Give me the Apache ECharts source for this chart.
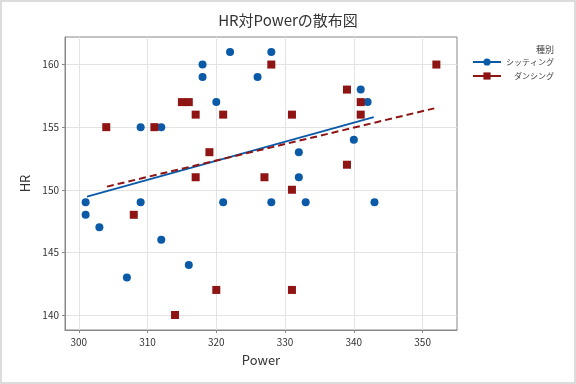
<!DOCTYPE html>
<html><head><meta charset="utf-8">
<script src="https://cdn.jsdelivr.net/npm/echarts@6/dist/echarts.min.js"></script>
<style>html,body{margin:0;padding:0;background:#fff}#c{width:576px;height:384px}</style>
</head><body><div id="c"></div>
<script>
const sittingPower = [318,318,322,326,320,309,312,328,341,342,340,332,332,301,301,303,309,321,312,316,307,328,333,343];
const sittingHR    = [160,159,161,159,157,155,155,161,158,157,154,153,151,149,148,147,149,149,146,144,143,149,149,149];
const dancingPower = [304,311,315,316,317,321,319,317,328,352,339,341,341,331,339,327,331,308,320,314,331];
const dancingHR    = [155,155,157,157,156,156,153,151,160,160,158,157,156,156,152,151,150,148,142,140,142];
const sittingFitX = [301.2, 342.9];
const sittingFitY = [149.45, 155.8];
const dancingFitX = [304.1, 351.7];
const dancingFitY = [150.25, 156.5];
const xTicks = [300,310,320,330,340,350];
const yTicks = [140,145,150,155,160];
const seriesNames = ['シッティング','ダンシング'];
const legendTitle = '種別';

const font = '"Noto Sans CJK JP","Noto Sans",sans-serif';
const blue = '#0a5aa8', red = '#8f1414';
const zip = (a,b)=>a.map((v,i)=>[v,b[i]]);
const chart = echarts.init(document.getElementById('c'));
chart.setOption({
  animation:false,
  backgroundColor:'#fff',
  textStyle:{fontFamily:font},
  title:{text:'HR対Powerの散布図',left:'center',top:8,textStyle:{fontSize:15,fontWeight:'normal',color:'#333',fontFamily:font}},
  graphic:[
    {type:'rect',shape:{x:1,y:1,width:574,height:382},style:{fill:'none',stroke:'#dcdcdc',lineWidth:2},silent:true},
    {type:'text',x:554,y:50,style:{text:legendTitle,font:'9px '+font,fill:'#444',align:'right',verticalAlign:'middle'},silent:true}
  ],
  legend:{
    orient:'vertical',right:22,top:58,padding:0,
    data:seriesNames,
    itemWidth:28,itemHeight:9,itemGap:6,
    lineStyle:{type:'solid'},
    formatter:n=>'{a|'+n+'}',
    textStyle:{color:'#444',rich:{a:{fontSize:8,width:48,align:'right',color:'#444'}}},
  },
  grid:{left:65,top:37,right:119,bottom:54,show:true,borderColor:'#888',borderWidth:1},
  xAxis:{
    type:'value',min:298,max:355,
    name:'Power',nameLocation:'middle',nameGap:24,
    nameTextStyle:{fontSize:13,color:'#333'},
    axisLine:{show:true,lineStyle:{color:'#888'}},
    axisTick:{show:true,length:3,customValues:xTicks,lineStyle:{color:'#888'}},
    axisLabel:{customValues:xTicks,fontSize:10,color:'#333',margin:7},
    splitLine:{show:true,lineStyle:{color:'#e3e3e3'}}
  },
  yAxis:{
    type:'value',min:138.8,max:162.2,
    name:'HR',nameLocation:'middle',nameGap:33,
    nameTextStyle:{fontSize:13,color:'#333'},
    axisLine:{show:true,lineStyle:{color:'#888'}},
    axisTick:{show:true,length:3,customValues:yTicks,lineStyle:{color:'#888'}},
    axisLabel:{customValues:yTicks,fontSize:10,color:'#333',margin:6},
    splitLine:{show:true,lineStyle:{color:'#e3e3e3'}}
  },
  series:[
    {name:seriesNames[0],type:'line',data:zip(sittingFitX,sittingFitY),symbol:'circle',symbolSize:8,showSymbol:false,
     lineStyle:{color:blue,width:2},itemStyle:{color:blue},z:3},
    {name:seriesNames[1],type:'line',data:zip(dancingFitX,dancingFitY),symbol:'rect',symbolSize:8,showSymbol:false,
     lineStyle:{color:red,width:2,type:[7,4]},itemStyle:{color:red},z:3},
    {name:seriesNames[0],type:'scatter',data:zip(sittingPower,sittingHR),symbol:'circle',symbolSize:8,itemStyle:{color:blue,opacity:1}},
    {name:seriesNames[1],type:'scatter',data:zip(dancingPower,dancingHR),symbol:'rect',symbolSize:8,itemStyle:{color:red,opacity:1}}
  ]
});
</script></body></html>
